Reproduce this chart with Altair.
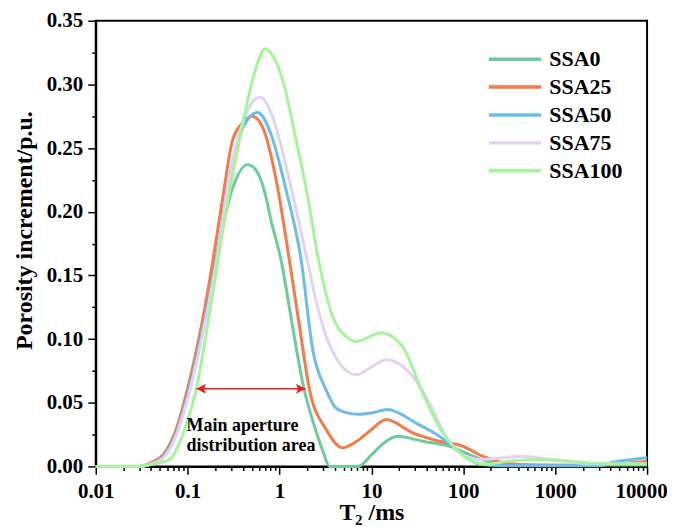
import altair as alt
import pandas as pd

FONT = "Liberation Serif"

series = ["SSA0", "SSA25", "SSA50", "SSA75", "SSA100"]
colors = ["#6dcb9c", "#f47a4a", "#6cbcef", "#e2d3f6", "#a5f49a"]

SSA0_T2 = [0.01, 0.03, 0.04, 0.055, 0.075, 0.1, 0.15, 0.2, 0.31, 0.45, 0.55, 0.63, 0.72, 0.81,
           1.04, 1.35, 1.79, 2.6, 3.0, 3.5, 7.2, 10, 14, 19.3, 36, 70, 116, 177, 270, 1000,
           10000]
SSA0_v = [0, 0, 0.002, 0.009, 0.026, 0.055, 0.112, 0.16, 0.219, 0.237, 0.233, 0.2247, 0.21,
          0.193, 0.162, 0.115, 0.0655, 0.0237, 0.011, 0, 0, 0.009, 0.019, 0.0237, 0.0198,
          0.0159, 0.0094, 0.0042, 0.0016, 0.001, 0.001]

SSA25_T2 = [0.01, 0.03, 0.04, 0.054, 0.075, 0.1, 0.15, 0.187, 0.24, 0.308, 0.4, 0.505, 0.658,
            0.921, 1.28, 1.65, 2.12, 3.22, 4.88, 7, 9.5, 14.5, 28, 55, 98, 162, 268, 600,
            2000, 5000, 10000]
SSA25_v = [0, 0, 0.003, 0.009, 0.029, 0.061, 0.12, 0.16, 0.21, 0.256, 0.27, 0.275, 0.266,
           0.2247, 0.162, 0.11, 0.0603, 0.029, 0.0146, 0.02, 0.0276, 0.0368, 0.0264, 0.0198,
           0.0159, 0.008, 0.0029, 0.001, 0.001, 0.002, 0.004]

SSA50_T2 = [0.01, 0.03, 0.04, 0.055, 0.075, 0.1, 0.15, 0.2, 0.3, 0.4, 0.58, 0.778, 1.18, 1.72,
            2.3, 3.22, 4.1, 5.5, 7, 10, 15, 30.6, 54.8, 83.4, 116, 149, 250, 3000, 4170, 10000]
SSA50_v = [0, 0, 0.002, 0.008, 0.026, 0.056, 0.112, 0.158, 0.235, 0.266, 0.278, 0.264, 0.217,
           0.162, 0.0916, 0.06, 0.046, 0.042, 0.041, 0.042, 0.0446, 0.034, 0.0237, 0.0133,
           0.0055, 0.0016, 0.0005, 0.0005, 0.003, 0.0068]

SSA75_T2 = [0.01, 0.03, 0.04, 0.055, 0.075, 0.1, 0.15, 0.2, 0.3, 0.45, 0.616, 0.846, 1.28,
            1.95, 2.5, 3.22, 4.49, 6.82, 10, 14.5, 28.1, 42.7, 64.9, 98.3, 149, 250, 406,
            1000, 2500, 10000]
SSA75_v = [0, 0, 0.002, 0.007, 0.024, 0.053, 0.108, 0.155, 0.235, 0.28, 0.290, 0.274, 0.2247,
           0.166, 0.13, 0.102, 0.0812, 0.072, 0.078, 0.0838, 0.0707, 0.05, 0.0237, 0.0094,
           0.0055, 0.0065, 0.008, 0.005, 0.002, 0.002]

SSA100_T2 = [0.01, 0.03, 0.04, 0.064, 0.08, 0.1, 0.124, 0.16, 0.223, 0.3, 0.367, 0.449, 0.55,
             0.699, 0.85, 1.087, 1.52, 2.03, 2.6, 3.79, 5.31, 6.82, 9, 12.7, 21.9, 36.1, 59.6,
             83.4, 126, 177, 300, 617, 1500, 3000, 10000]
SSA100_v = [0, 0, 0.0015, 0.0055, 0.017, 0.036, 0.0603, 0.105, 0.17, 0.225, 0.256, 0.287,
            0.312, 0.328, 0.322, 0.303, 0.256, 0.2117, 0.166, 0.1177, 0.102, 0.098, 0.101,
            0.105, 0.094, 0.0577, 0.0264, 0.0133, 0.0042, 0.0016, 0.004, 0.0055, 0.004,
            0.002, 0.002]

# annotation
ann_T2 = [0.0975, 0.0975]
ann_v = [0.0276, 0.012]
ann_text = ["Main aperture", "distribution area"]
arrow_T2 = [0.1245, 1.92]
arrow_v = [0.061, 0.061]

rows = []
for name, ts, vs in zip(series,
                        [SSA0_T2, SSA25_T2, SSA50_T2, SSA75_T2, SSA100_T2],
                        [SSA0_v, SSA25_v, SSA50_v, SSA75_v, SSA100_v]):
    for t, v in zip(ts, vs):
        rows.append({"series": name, "T2": t, "v": v})
df = pd.DataFrame(rows)

decades = [0.01, 0.1, 1, 10, 100, 1000]
x_ticks = [round(d * k, 4) for d in decades for k in range(1, 10)] + [10000]
y_ticks = [round(i * 0.025, 3) for i in range(15)]

dec_test = "abs(log(datum.value)/LN10 - round(log(datum.value)/LN10)) < 1e-6"
y_test = "abs(datum.value*20 - round(datum.value*20)) < 1e-6"

x_scale = alt.Scale(type="log", domain=[0.01, 10000], nice=False)
y_scale = alt.Scale(domain=[0, 0.35], nice=False)

x_axis = alt.Axis(values=x_ticks, title="T₂ /ms", format="~g",
                  labelExpr=f"({dec_test}) ? datum.label : ''",
                  tickSize={"condition": {"test": dec_test, "value": 8}, "value": 4},
                  labelOffset={"condition": {"test": "datum.value >= 9999", "value": -6},
                               "value": 0},
                  labelOverlap=False, labelPadding=6, titlePadding=-1, labelFlush=False)
y_axis = alt.Axis(values=y_ticks, title="Porosity increment/p.u.", format=".2f",
                  labelExpr=f"({y_test}) ? datum.label : ''",
                  tickSize={"condition": {"test": y_test, "value": 8}, "value": 4},
                  labelOverlap=False, labelPadding=5, titlePadding=10, labelFlush=False,
                  titleY=210)

X = alt.X("T2:Q", scale=x_scale, axis=x_axis)
Y = alt.Y("v:Q", scale=y_scale, axis=y_axis)

lines = alt.Chart(df).mark_line(strokeWidth=3, interpolate="monotone").encode(
    x=X, y=Y,
    color=alt.Color("series:N", scale=alt.Scale(domain=series, range=colors),
                    legend=alt.Legend(title=None, orient="none", legendX=408, legendY=26,
                                      symbolType="M-2.5,0L2.5,0", symbolSize=441,
                                      symbolStrokeWidth=3.5, labelFont=FONT,
                                      labelFontSize=22, labelFontWeight="bold",
                                      labelColor="black", rowPadding=4, padding=0,
                                      labelOffset=22)),
)

ann_df = pd.DataFrame({"T2": ann_T2, "v": ann_v, "text": ann_text})
ann = alt.Chart(ann_df).mark_text(align="left", baseline="alphabetic", font=FONT,
                                  fontSize=18, fontWeight="bold", color="black").encode(
    x=X, y=Y, text="text:N")

rule_df = pd.DataFrame({"T2": [arrow_T2[0]], "T2b": [arrow_T2[1]], "v": [arrow_v[0]]})
rule = alt.Chart(rule_df).mark_rule(color="#f01c1c", strokeWidth=1.6).encode(
    x=X, x2="T2b:Q", y=Y)

head_df = pd.DataFrame({"T2": arrow_T2, "v": arrow_v, "dir": ["L", "R"]})
heads = alt.Chart(head_df).mark_point(filled=True, color="#f01c1c", size=144, opacity=1,
                                      strokeWidth=0).encode(
    x=X, y=Y,
    shape=alt.Shape("dir:N", scale=alt.Scale(domain=["L", "R"],
                                             range=["M0,0L1.6,-0.85L1.25,0L1.6,0.85Z",
                                                    "M0,0L-1.6,-0.85L-1.25,0L-1.6,0.85Z"]),
                    legend=None))

chart = alt.layer(lines, rule, heads, ann).properties(
    width=553, height=447,
    autosize=alt.AutoSizeParams(type="none"),
    padding={"left": 88, "top": 12, "right": 20, "bottom": 60},
).configure_view(stroke="black", strokeWidth=2).configure_axis(
    grid=False, domainColor="black", domainWidth=2, tickColor="black", tickWidth=1.5,
    labelFont=FONT, labelFontSize=21, labelFontWeight="bold", labelColor="black",
    titleFont=FONT, titleFontSize=24, titleFontWeight="bold", titleColor="black",
)

chart.save("out.html", embed_options={"renderer": "svg", "actions": False})
